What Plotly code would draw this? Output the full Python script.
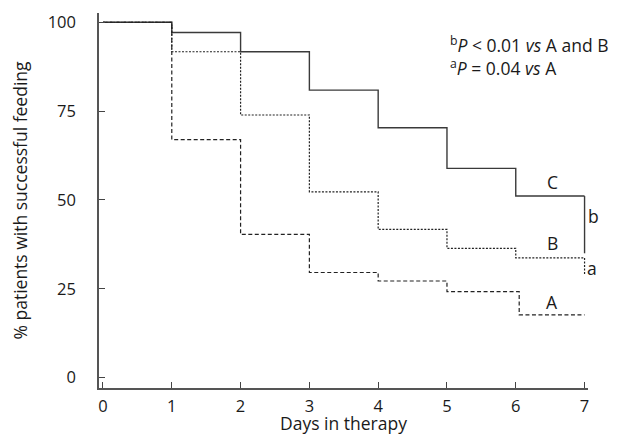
import plotly.graph_objects as go

days_c = [0, 1, 2, 3, 4, 5, 6, 7]
group_c = [100, 97.1, 91.7, 80.9, 70.3, 58.9, 51.1, 51.1]
days_b = [0, 1, 2, 3, 4, 5, 6, 7]
group_b = [100, 91.7, 73.9, 52.3, 41.7, 36.4, 33.7, 33.7]
days_a = [0, 1, 2, 3, 4, 5, 6.05, 7]
group_a = [100, 67.0, 40.3, 29.6, 27.2, 24.2, 17.7, 17.7]
bracket_b = [51.1, 35.0]   # C vs A and B marker at day 7
bracket_a = [33.7, 29.0]   # B vs A marker at day 7
x_ticks = [0, 1, 2, 3, 4, 5, 6, 7]
y_ticks = [0, 25, 50, 75, 100]

FONT = "Open Sans"
FS = 17.5
TFS = 16.5
TXT = "#1a1a1a"

# the page body has an 8px margin, so the figure is made 8px smaller
OFF = 8
W, H = 621 - OFF, 436 - OFF
L, R, T, B = 99 - OFF, 33, 13 - OFF, 48
pw, ph = W - L - R, H - T - B

def px_to_paper(px, py):
    return (px - OFF - L) / pw, (H - (py - OFF) - B) / ph

fig = go.Figure()
fig.add_trace(go.Scatter(x=days_c, y=group_c, mode="lines", line_shape="hv",
                         line=dict(color="#3a3a3a", width=1.4), showlegend=False))
fig.add_trace(go.Scatter(x=days_b, y=group_b, mode="lines", line_shape="hv",
                         line=dict(color="#222", width=1.2, dash="2px,1.5px"), showlegend=False))
fig.add_trace(go.Scatter(x=days_a, y=group_a, mode="lines", line_shape="hv",
                         line=dict(color="#222", width=1.2, dash="4px,2.5px"), showlegend=False))
fig.add_trace(go.Scatter(x=[7, 7], y=bracket_b, mode="lines",
                         line=dict(color="#3a3a3a", width=1.4), showlegend=False))
fig.add_trace(go.Scatter(x=[7, 7], y=bracket_a, mode="lines",
                         line=dict(color="#222", width=1.2, dash="2px,1.5px"), showlegend=False))

labels = [("C", 6.53, 55.0), ("B", 6.53, 38.0), ("A", 6.53, 21.2)]
for t, x, y in labels:
    fig.add_annotation(x=x, y=y, text=t, showarrow=False,
                       font=dict(family=FONT, size=FS, color=TXT))
fig.add_annotation(x=7.02, y=45.5, text="b", showarrow=False, xanchor="left",
                   font=dict(family=FONT, size=FS, color=TXT))
fig.add_annotation(x=7.0, y=31.0, text="a", showarrow=False, xanchor="left",
                   font=dict(family=FONT, size=FS, color=TXT))

ax1, ay1 = px_to_paper(448, 44)
ax2, ay2 = px_to_paper(448, 67)
fig.add_annotation(x=ax1, y=ay1, xref="paper", yref="paper", showarrow=False,
                   text="<sup>b</sup><i>P</i> &lt; 0.01 <i>vs</i> A and B",
                   xanchor="left", yanchor="middle",
                   font=dict(family=FONT, size=FS, color=TXT))
fig.add_annotation(x=ax2, y=ay2, xref="paper", yref="paper", showarrow=False,
                   text="<sup>a</sup><i>P</i> = 0.04 <i>vs</i> A",
                   xanchor="left", yanchor="middle",
                   font=dict(family=FONT, size=FS, color=TXT))

# x-axis title placed as an annotation (exact position below the tick labels)
tx, ty = px_to_paper(343, 423)
fig.add_annotation(x=tx, y=ty, xref="paper", yref="paper", showarrow=False,
                   text="Days in therapy", xanchor="center", yanchor="middle",
                   font=dict(family=FONT, size=FS, color=TXT))

fig.update_layout(
    width=W, height=H,
    margin=dict(l=L, r=R, t=T, b=B),
    paper_bgcolor="white", plot_bgcolor="white",
    font=dict(family=FONT, size=FS, color=TXT),
)
fig.update_xaxes(range=[-0.058, 7.05], tickvals=x_ticks, ticks="inside", ticklen=6,
                 tickcolor="#444", showline=True, linecolor="#555", linewidth=1.5,
                 showgrid=False, zeroline=False, ticklabelstandoff=2, automargin=False,
                 tickfont=dict(family=FONT, size=TFS, color=TXT))
fig.update_yaxes(range=[-2.9, 102.6], tickvals=y_ticks, ticks="inside", ticklen=6,
                 tickcolor="#444", showline=True, linecolor="#555", linewidth=1.5,
                 showgrid=False, zeroline=False, ticklabelstandoff=18, automargin=False,
                 tickfont=dict(family=FONT, size=TFS, color=TXT),
                 title=dict(text="% patients with successful feeding", standoff=20,
                            font=dict(family=FONT, size=FS, color=TXT)))

fig.write_html("out.html")
